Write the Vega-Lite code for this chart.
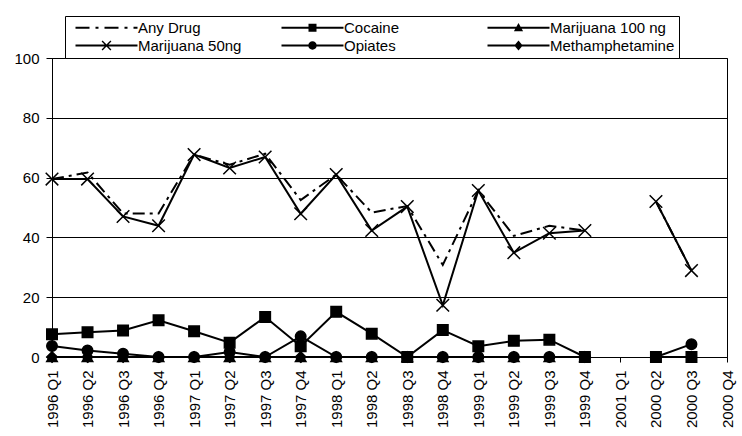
{
  "$schema": "https://vega.github.io/schema/vega-lite/v6.json",
  "width": 675,
  "height": 299,
  "autosize": {"type": "none"},
  "padding": {"left": 52, "top": 58, "right": 15, "bottom": 79},
  "background": "white",
  "config": {
    "font": "Liberation Sans",
    "view": {"stroke": "black", "strokeWidth": 1}
  },
  "data": {
    "values": [
      {"quarter": "1996 Q1", "series": "Any Drug", "value": 59.5},
      {"quarter": "1996 Q2", "series": "Any Drug", "value": 61.7},
      {"quarter": "1996 Q3", "series": "Any Drug", "value": 48},
      {"quarter": "1996 Q4", "series": "Any Drug", "value": 48},
      {"quarter": "1997 Q1", "series": "Any Drug", "value": 67.7},
      {"quarter": "1997 Q2", "series": "Any Drug", "value": 64.3},
      {"quarter": "1997 Q3", "series": "Any Drug", "value": 68},
      {"quarter": "1997 Q4", "series": "Any Drug", "value": 52.5},
      {"quarter": "1998 Q1", "series": "Any Drug", "value": 61},
      {"quarter": "1998 Q2", "series": "Any Drug", "value": 48.3},
      {"quarter": "1998 Q3", "series": "Any Drug", "value": 50.5},
      {"quarter": "1998 Q4", "series": "Any Drug", "value": 30.8},
      {"quarter": "1999 Q1", "series": "Any Drug", "value": 55.7},
      {"quarter": "1999 Q2", "series": "Any Drug", "value": 40.5},
      {"quarter": "1999 Q3", "series": "Any Drug", "value": 43.9},
      {"quarter": "1999 Q4", "series": "Any Drug", "value": 42.3},
      {"quarter": "2001 Q1", "series": "Any Drug", "value": null},
      {"quarter": "2000 Q2", "series": "Any Drug", "value": 52},
      {"quarter": "2000 Q3", "series": "Any Drug", "value": 28.9},

      {"quarter": "1996 Q1", "series": "Marijuana 50ng", "value": 59.5},
      {"quarter": "1996 Q2", "series": "Marijuana 50ng", "value": 59.5},
      {"quarter": "1996 Q3", "series": "Marijuana 50ng", "value": 47},
      {"quarter": "1996 Q4", "series": "Marijuana 50ng", "value": 43.9},
      {"quarter": "1997 Q1", "series": "Marijuana 50ng", "value": 67.7},
      {"quarter": "1997 Q2", "series": "Marijuana 50ng", "value": 63.2},
      {"quarter": "1997 Q3", "series": "Marijuana 50ng", "value": 66.9},
      {"quarter": "1997 Q4", "series": "Marijuana 50ng", "value": 47.9},
      {"quarter": "1998 Q1", "series": "Marijuana 50ng", "value": 61},
      {"quarter": "1998 Q2", "series": "Marijuana 50ng", "value": 42.3},
      {"quarter": "1998 Q3", "series": "Marijuana 50ng", "value": 50.3},
      {"quarter": "1998 Q4", "series": "Marijuana 50ng", "value": 17.3},
      {"quarter": "1999 Q1", "series": "Marijuana 50ng", "value": 55.7},
      {"quarter": "1999 Q2", "series": "Marijuana 50ng", "value": 34.9},
      {"quarter": "1999 Q3", "series": "Marijuana 50ng", "value": 41.4},
      {"quarter": "1999 Q4", "series": "Marijuana 50ng", "value": 42.3},
      {"quarter": "2001 Q1", "series": "Marijuana 50ng", "value": null},
      {"quarter": "2000 Q2", "series": "Marijuana 50ng", "value": 52},
      {"quarter": "2000 Q3", "series": "Marijuana 50ng", "value": 28.9},

      {"quarter": "1996 Q1", "series": "Cocaine", "value": 7.6},
      {"quarter": "1996 Q2", "series": "Cocaine", "value": 8.3},
      {"quarter": "1996 Q3", "series": "Cocaine", "value": 8.9},
      {"quarter": "1996 Q4", "series": "Cocaine", "value": 12.3},
      {"quarter": "1997 Q1", "series": "Cocaine", "value": 8.6},
      {"quarter": "1997 Q2", "series": "Cocaine", "value": 4.8},
      {"quarter": "1997 Q3", "series": "Cocaine", "value": 13.4},
      {"quarter": "1997 Q4", "series": "Cocaine", "value": 3.6},
      {"quarter": "1998 Q1", "series": "Cocaine", "value": 15.1},
      {"quarter": "1998 Q2", "series": "Cocaine", "value": 7.8},
      {"quarter": "1998 Q3", "series": "Cocaine", "value": 0},
      {"quarter": "1998 Q4", "series": "Cocaine", "value": 9},
      {"quarter": "1999 Q1", "series": "Cocaine", "value": 3.6},
      {"quarter": "1999 Q2", "series": "Cocaine", "value": 5.4},
      {"quarter": "1999 Q3", "series": "Cocaine", "value": 5.8},
      {"quarter": "1999 Q4", "series": "Cocaine", "value": 0},
      {"quarter": "2001 Q1", "series": "Cocaine", "value": null},
      {"quarter": "2000 Q2", "series": "Cocaine", "value": 0},
      {"quarter": "2000 Q3", "series": "Cocaine", "value": 0},

      {"quarter": "1996 Q1", "series": "Opiates", "value": 3.7},
      {"quarter": "1996 Q2", "series": "Opiates", "value": 2.2},
      {"quarter": "1996 Q3", "series": "Opiates", "value": 1.1},
      {"quarter": "1996 Q4", "series": "Opiates", "value": 0},
      {"quarter": "1997 Q1", "series": "Opiates", "value": 0},
      {"quarter": "1997 Q2", "series": "Opiates", "value": 1.7},
      {"quarter": "1997 Q3", "series": "Opiates", "value": 0},
      {"quarter": "1997 Q4", "series": "Opiates", "value": 6.9},
      {"quarter": "1998 Q1", "series": "Opiates", "value": 0},
      {"quarter": "1998 Q2", "series": "Opiates", "value": 0},
      {"quarter": "1998 Q3", "series": "Opiates", "value": 0},
      {"quarter": "1998 Q4", "series": "Opiates", "value": 0},
      {"quarter": "1999 Q1", "series": "Opiates", "value": 0},
      {"quarter": "1999 Q2", "series": "Opiates", "value": 0},
      {"quarter": "1999 Q3", "series": "Opiates", "value": 0},
      {"quarter": "1999 Q4", "series": "Opiates", "value": 0},
      {"quarter": "2001 Q1", "series": "Opiates", "value": null},
      {"quarter": "2000 Q2", "series": "Opiates", "value": 0},
      {"quarter": "2000 Q3", "series": "Opiates", "value": 4.3},

      {"quarter": "1996 Q1", "series": "Marijuana 100 ng", "value": 0},
      {"quarter": "1996 Q2", "series": "Marijuana 100 ng", "value": 0},
      {"quarter": "1996 Q3", "series": "Marijuana 100 ng", "value": 0},
      {"quarter": "1996 Q4", "series": "Marijuana 100 ng", "value": 0},
      {"quarter": "1997 Q1", "series": "Marijuana 100 ng", "value": 0},
      {"quarter": "1997 Q2", "series": "Marijuana 100 ng", "value": 0},
      {"quarter": "1997 Q3", "series": "Marijuana 100 ng", "value": 0},
      {"quarter": "1997 Q4", "series": "Marijuana 100 ng", "value": 0},
      {"quarter": "1998 Q1", "series": "Marijuana 100 ng", "value": 0},
      {"quarter": "1998 Q2", "series": "Marijuana 100 ng", "value": 0},
      {"quarter": "1998 Q3", "series": "Marijuana 100 ng", "value": 0},
      {"quarter": "1998 Q4", "series": "Marijuana 100 ng", "value": 0},
      {"quarter": "1999 Q1", "series": "Marijuana 100 ng", "value": 0},
      {"quarter": "1999 Q2", "series": "Marijuana 100 ng", "value": 0},
      {"quarter": "1999 Q3", "series": "Marijuana 100 ng", "value": 0},
      {"quarter": "1999 Q4", "series": "Marijuana 100 ng", "value": 0},

      {"quarter": "1996 Q1", "series": "Methamphetamine", "value": 0},
      {"quarter": "1996 Q2", "series": "Methamphetamine", "value": 0},
      {"quarter": "1996 Q3", "series": "Methamphetamine", "value": 0},
      {"quarter": "1996 Q4", "series": "Methamphetamine", "value": 0},
      {"quarter": "1997 Q1", "series": "Methamphetamine", "value": 0},
      {"quarter": "1997 Q2", "series": "Methamphetamine", "value": 0},
      {"quarter": "1997 Q3", "series": "Methamphetamine", "value": 0},
      {"quarter": "1997 Q4", "series": "Methamphetamine", "value": 0},
      {"quarter": "1998 Q1", "series": "Methamphetamine", "value": 0},
      {"quarter": "1998 Q2", "series": "Methamphetamine", "value": 0},
      {"quarter": "1998 Q3", "series": "Methamphetamine", "value": 0},
      {"quarter": "1998 Q4", "series": "Methamphetamine", "value": 0},
      {"quarter": "1999 Q1", "series": "Methamphetamine", "value": 0},
      {"quarter": "1999 Q2", "series": "Methamphetamine", "value": 0},
      {"quarter": "1999 Q3", "series": "Methamphetamine", "value": 0},
      {"quarter": "1999 Q4", "series": "Methamphetamine", "value": 0}
    ]
  },
  "encoding": {
    "x": {
      "field": "quarter",
      "type": "ordinal",
      "sort": null,
      "scale": {
        "type": "point",
        "padding": 0,
        "domain": ["1996 Q1","1996 Q2","1996 Q3","1996 Q4","1997 Q1","1997 Q2","1997 Q3","1997 Q4","1998 Q1","1998 Q2","1998 Q3","1998 Q4","1999 Q1","1999 Q2","1999 Q3","1999 Q4","2001 Q1","2000 Q2","2000 Q3","2000 Q4"]
      },
      "axis": {
        "title": null,
        "labelAngle": 270,
        "labelFontSize": 15,
        "labelColor": "black",
        "labelPadding": 8,
        "tickColor": "black",
        "tickSize": 5,
        "domainColor": "black",
        "grid": false
      }
    },
    "y": {
      "field": "value",
      "type": "quantitative",
      "scale": {"domain": [0, 100], "nice": false},
      "axis": {
        "title": null,
        "values": [0, 20, 40, 60, 80, 100],
        "grid": true,
        "gridColor": "black",
        "gridWidth": 1,
        "labelFontSize": 15,
        "labelColor": "black",
        "labelPadding": 7,
        "tickColor": "black",
        "tickSize": 6,
        "domainColor": "black"
      }
    }
  },
  "resolve": {"scale": {"shape": "independent"}, "legend": {"shape": "independent"}},
  "layer": [
    {
      "transform": [{"filter": "datum.series !== 'Any Drug'"}],
      "mark": {"type": "line", "color": "black", "strokeWidth": 2, "invalid": "break-paths-show-domains"},
      "encoding": {
        "detail": {"field": "series", "type": "nominal"}
      }
    },
    {
      "transform": [{"filter": "datum.series === 'Any Drug'"}],
      "mark": {"type": "line", "color": "black", "strokeWidth": 2, "strokeDash": [12, 5, 3, 5], "invalid": "break-paths-show-domains"},
      "encoding": {}
    },
    {
      "transform": [{"filter": "datum.series !== 'Any Drug' && isValid(datum.value)"}],
      "mark": {"type": "point", "filled": true, "color": "black", "stroke": "black", "strokeWidth": 1.5, "size": 110, "opacity": 1},
      "encoding": {
        "shape": {
          "field": "series",
          "type": "nominal",
          "scale": {
            "domain": ["Any Drug", "Cocaine", "Marijuana 100 ng", "Marijuana 50ng", "Opiates", "Methamphetamine"],
            "range": ["circle", "square", "triangle-up", "M-1.2,-1.2L1.2,1.2M-1.2,1.2L1.2,-1.2", "circle", "diamond"]
          },
          "legend": null
        }
      }
    },
    {
      "transform": [{"filter": "false"}],
      "mark": {"type": "point", "filled": true, "color": "black", "strokeWidth": 0, "size": 64, "opacity": 1},
      "encoding": {
        "shape": {
          "field": "series",
          "type": "nominal",
          "scale": {
            "domain": ["Any Drug", "Cocaine", "Marijuana 100 ng", "Marijuana 50ng", "Opiates", "Methamphetamine"],
            "range": [
              "M-7.75,-0.22H-4.25V0.22H-7.75ZM-2.75,-0.22H-2V0.22H-2.75ZM-0.5,-0.22H3V0.22H-0.5ZM4.5,-0.22H5.25V0.22H4.5ZM6.75,-0.22H7.75V0.22H6.75Z",
              "M-7.75,-0.22H7.75V0.22H-7.75ZM-1,-1H1V1H-1Z",
              "M-7.75,-0.22H7.75V0.22H-7.75ZM0,-1.2L1.15,0.85L-1.15,0.85Z",
              "M-7.75,-0.22H7.75V0.22H-7.75ZM-0.976,-1.224L1.224,0.976L0.976,1.224L-1.224,-0.976ZM1.224,-0.976L-0.976,1.224L-1.224,0.976L0.976,-1.224Z",
              "M-7.75,-0.22H7.75V0.22H-7.75ZM-1.05,0A1.05,1.05,0,1,1,1.05,0A1.05,1.05,0,1,1,-1.05,0Z",
              "M-7.75,-0.22H7.75V0.22H-7.75ZM0,-1.25L1.05,0L0,1.25L-1.05,0Z"
            ]
          },
          "legend": {
            "title": null,
            "orient": "none",
            "direction": "horizontal",
            "legendX": 13,
            "legendY": -42,
            "columns": 3,
            "gridAlign": "all",
            "columnPadding": 12,
            "rowPadding": 2,
            "padding": 4,
            "strokeColor": "black",
            "fillColor": "white",
            "symbolSize": 64,
            "symbolStrokeWidth": 0,
            "symbolFillColor": "black",
            "symbolOffset": 30,
            "labelOffset": 24,
            "labelFontSize": 15,
            "labelColor": "black",
            "labelLimit": 0
          }
        }
      }
    }
  ]
}
